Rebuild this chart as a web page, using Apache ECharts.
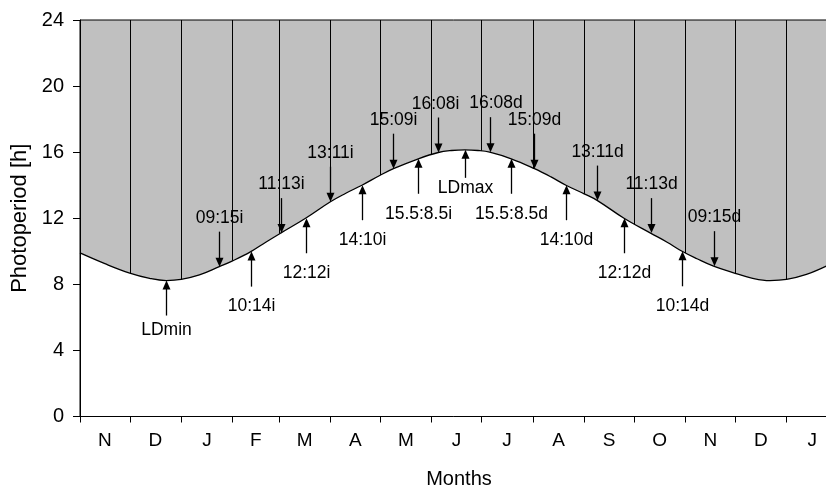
<!DOCTYPE html>
<html><head><meta charset="utf-8">
<script src="https://cdn.jsdelivr.net/npm/echarts@6/dist/echarts.min.js"></script>
<style>html,body{margin:0;padding:0;background:#fff}#c{width:826px;height:488px}</style>
</head><body><div id="c"></div>
<script>
// Days counted from 1 November
const monthStarts = [0, 30, 61, 92, 120, 151, 181, 212, 242, 273, 304, 334, 365, 395, 426, 457];
const monthLetters = ['N', 'D', 'J', 'F', 'M', 'A', 'M', 'J', 'J', 'A', 'S', 'O', 'N', 'D', 'J'];
const yTicks = [0, 4, 8, 12, 16, 20, 24];

const curveDays  = [0, 15, 30, 42, 52, 61, 72, 84, 92, 103, 112, 121, 136, 151, 160, 170, 181, 189, 204, 216, 224, 232, 240, 247, 260, 274, 284, 293, 304, 312, 328, 344, 354, 363, 372, 382, 395, 405, 416, 426, 438, 451];
const curveHours = [9.9, 9.25, 8.68, 8.36, 8.23, 8.3, 8.57, 9.07, 9.42, 9.98, 10.55, 11.1, 12.0, 13.0, 13.5, 14.0, 14.6, 15.0, 15.6, 15.98, 16.1, 16.14, 16.1, 16.0, 15.6, 15.0, 14.5, 14.0, 13.48, 13.07, 12.0, 11.1, 10.55, 10.0, 9.55, 9.1, 8.67, 8.38, 8.23, 8.3, 8.6, 9.15];

const annLabels = ['LDmin', '09:15i', '10:14i', '11:13i', '12:12i', '13:11i', '14:10i', '15:09i', '15.5:8.5i', '16:08i', 'LDmax', '16:08d', '15.5:8.5d', '15:09d', '14:10d', '13:11d', '12:12d', '11:13d', '10:14d', '09:15d'];
const annDays   = [52, 84, 103, 121, 136, 151, 170, 189, 204, 216, 232, 247, 260, 274, 293, 312, 328, 344, 363, 382];
const annHours  = [8.23, 9.07, 9.98, 11.1, 12.0, 13.0, 14.0, 15.0, 15.6, 15.98, 16.14, 16.0, 15.6, 15.0, 14.0, 13.07, 12.0, 11.1, 10.0, 9.1];
const annDir    = ['up', 'down', 'up', 'down', 'up', 'down', 'up', 'down', 'up', 'down', 'up', 'down', 'up', 'down', 'up', 'down', 'up', 'down', 'up', 'down'];

// styling (not data)
const FONT = '"Liberation Sans", Arial, Helvetica, sans-serif';
const arrowStyle = { len: 35, head: 9, halfW: 4, upGap: 20, downGap: 13.5 };
const arrowSpecial = { 'LDmin': { gap: 15 }, 'LDmax': { len: 28, gap: 10 }, '16:08i': { dx: -3 }, '16:08d': { dx: 5.5 } };

const monthMids = monthLetters.map((m, i) => (monthStarts[i] + monthStarts[i + 1]) / 2);
const tickStarts = monthStarts.slice(0, monthLetters.length);

const chart = echarts.init(document.getElementById('c'), null, { renderer: 'canvas' });

const option = {
  animation: false,
  backgroundColor: '#fff',
  textStyle: { fontFamily: FONT },
  grid: {
    show: true, left: 80, right: -2, top: 20, bottom: 71.5,
    containLabel: false, outerBoundsMode: 'none',
    backgroundColor: '#c0c0c0', borderColor: '#000', borderWidth: 1
  },
  xAxis: [
    {
      type: 'value', min: 0, max: 451, position: 'bottom', z: 0,
      axisLine: { show: false },
      axisTick: { show: false, customValues: tickStarts },
      axisLabel: { show: false, customValues: monthMids },
      splitLine: { show: true, lineStyle: { color: '#000', width: 1 } }
    },
    {
      type: 'value', min: 0, max: 451, position: 'bottom', z: 10,
      name: 'Months', nameLocation: 'middle', nameGap: 53,
      nameTextStyle: { fontSize: 20, color: '#000', fontFamily: FONT, padding: [0, 0, 0, 10] },
      axisLine: { show: true, lineStyle: { color: '#000', width: 1 } },
      axisTick: { show: true, length: 6, inside: false, customValues: tickStarts, lineStyle: { color: '#000' } },
      axisLabel: {
        show: true, customValues: monthMids, margin: 15, fontSize: 19, color: '#000', fontFamily: FONT,
        formatter: function (v) {
          for (let i = 0; i < monthMids.length; i++) if (Math.abs(monthMids[i] - v) < 0.01) return monthLetters[i];
          return '';
        }
      },
      splitLine: { show: false }
    }
  ],
  yAxis: {
    type: 'value', min: yTicks[0], max: yTicks[yTicks.length - 1], interval: 4, z: 10,
    name: 'Photoperiod [h]', nameLocation: 'middle', nameGap: 46,
    nameTextStyle: { fontSize: 22, color: '#000', fontFamily: FONT },
    axisLine: { show: true, lineStyle: { color: '#000', width: 1 } },
    axisTick: { show: true, length: 7, inside: false, lineStyle: { color: '#000' } },
    axisLabel: { margin: 16, fontSize: 20, color: '#000', fontFamily: FONT },
    splitLine: { show: false }
  },
  series: [
    {
      type: 'line', xAxisIndex: 0, z: 2,
      data: curveDays.map((d, i) => [d, curveHours[i]]),
      smooth: 0.4, symbol: 'none',
      lineStyle: { color: '#000', width: 1.3 },
      areaStyle: { color: '#fff', opacity: 1 },
      silent: true
    },
    {
      type: 'custom', xAxisIndex: 0, z: 20, clip: false, silent: true,
      data: annDays.map((d, i) => [d, annHours[i], i]),
      encode: { x: 0, y: 1 },
      renderItem: function (params, api) {
        const i = api.value(2);
        const label = annLabels[i];
        const sp = arrowSpecial[label] || {};
        const p = api.coord([api.value(0), api.value(1)]);
        const x = Math.round(p[0]) + 0.5, y = p[1];
        const len = sp.len || arrowStyle.len;
        const h = arrowStyle.head, w = arrowStyle.halfW;
        const s = annDir[i] === 'down' ? -1 : 1; // -1: arrow comes from above
        const gap = sp.gap || (s < 0 ? arrowStyle.downGap : arrowStyle.upGap);
        return {
          type: 'group',
          children: [
            { type: 'line', shape: { x1: x, y1: y + s * (h - 1), x2: x, y2: y + s * len }, style: { stroke: '#000', lineWidth: 1.3 } },
            { type: 'polygon', shape: { points: [[x, y], [x - w, y + s * h], [x + w, y + s * h]] }, style: { fill: '#000' } },
            { type: 'text', x: x + (sp.dx || 0), y: y + s * (len + gap),
              style: { text: label, fill: '#000', fontSize: 17.5, fontFamily: FONT, align: 'center', verticalAlign: 'middle' } }
          ]
        };
      }
    }
  ]
};
chart.setOption(option);
</script>
</body></html>
